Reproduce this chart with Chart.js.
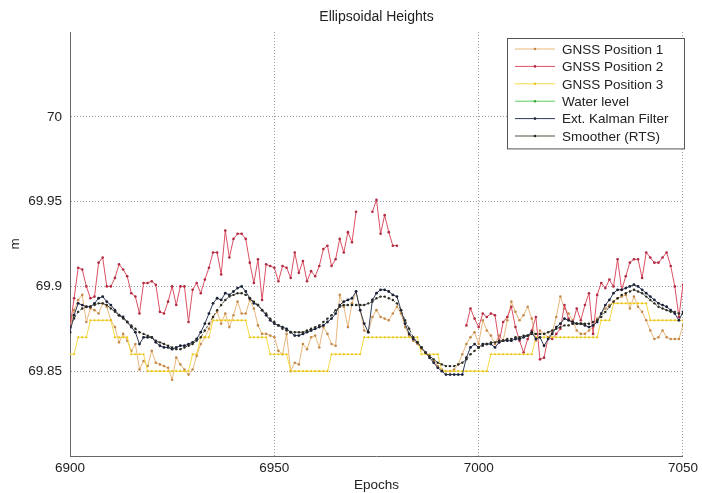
<!DOCTYPE html>
<html>
<head>
<meta charset="utf-8">
<script src="https://cdn.jsdelivr.net/npm/chart.js@4/dist/chart.umd.min.js"></script>
<style>
  html, body { margin: 0; padding: 0; background: #fff; }
  #chart { display: block; }
</style>
</head>
<body>
<canvas id="chart" width="702" height="493"></canvas>
<script>
const FIRST_EPOCH = 6900;
const LAST_EPOCH = 7050;

const xTicks = [6900, 6950, 7000, 7050];
const yTicks = [69.85, 69.9, 69.95, 70];

const gnss1 = [
    69.876, 69.886, 69.892, 69.895, 69.879, 69.887, 69.886, 69.884, 69.890, 69.888,
    69.880, 69.876, 69.867, 69.872, 69.868, 69.862, 69.866, 69.851, 69.856, 69.853,
    69.862, 69.855, 69.854, 69.853, 69.852, 69.845, 69.858, 69.854, 69.851, 69.848,
    69.851, 69.859, 69.866, 69.870, 69.875, 69.882, 69.885, 69.878, 69.884, 69.876,
    69.883, 69.891, 69.884, 69.884, 69.892, 69.887, 69.877, 69.872, 69.872, 69.871,
    69.870, 69.862, 69.860, 69.872, 69.850, 69.855, 69.854, 69.866, 69.863, 69.870,
    69.871, 69.864, 69.876, 69.872, 69.866, 69.865, 69.895, 69.888, 69.876, 69.890,
    69.897, 69.886, 69.874, 69.873, 69.882, 69.886, 69.882, 69.881, 69.880, 69.884,
    69.888, 69.884, 69.876, 69.871, 69.868, 69.866, 69.863, 69.861, 69.858, 69.856,
    69.853, 69.851, 69.850, 69.850, 69.851, 69.854, 69.860, 69.866, 69.870, 69.873,
    69.866, 69.880, 69.874, 69.871, 69.866, 69.871, 69.868, 69.880, 69.891, 69.885,
    69.880, 69.883, 69.888, 69.881, 69.868, 69.874, 69.872, 69.870, 69.873, 69.882,
    69.894, 69.887, 69.884, 69.880, 69.874, 69.872, 69.872, 69.874, 69.876, 69.881,
    69.884, 69.887, 69.889, 69.891, 69.893, 69.894, 69.895, 69.887, 69.894, 69.888,
    69.885, 69.880, 69.874, 69.869, 69.870, 69.874, 69.870, 69.869, 69.869, 69.869,
    69.877
];

const gnss2 = [
    69.876, 69.893, 69.911, 69.910, 69.900, 69.893, 69.894, 69.914, 69.917, 69.900,
    69.900, 69.905, 69.913, 69.910, 69.906, 69.896, 69.894, 69.884, 69.902, 69.902,
    69.903, 69.901, 69.885, 69.884, 69.891, 69.900, 69.889, 69.900, 69.900, 69.879,
    69.898, 69.902, 69.896, 69.904, 69.911, 69.920, 69.920, 69.907, 69.933, 69.917,
    69.928, 69.931, 69.931, 69.928, 69.914, 69.902, 69.916, 69.892, 69.913, 69.912,
    69.911, 69.903, 69.912, 69.911, 69.905, 69.920, 69.908, 69.915, 69.903, 69.909,
    69.906, 69.912, 69.922, 69.924, 69.912, 69.916, 69.928, 69.920, 69.932, 69.926,
    69.944, null, null, null, 69.944, 69.951, 69.931, 69.942, 69.932, 69.924,
    69.924, null, null, null, null, null, null, null, null, null,
    null, null, null, null, null, null, null, 69.877, 69.887, 69.881,
    69.876, 69.884, 69.882, 69.884, 69.883, 69.867, 69.879, 69.882, 69.888, 69.876,
    69.868, 69.861, 69.869, 69.874, 69.882, 69.857, 69.858, 69.870, 69.869, 69.872,
    69.875, 69.889, 69.881, 69.878, 69.887, 69.880, 69.889, 69.896, 69.872, 69.895,
    69.902, 69.899, 69.904, 69.900, 69.916, 69.898, 69.906, 69.914, 69.916, 69.916,
    69.905, 69.920, 69.917, 69.914, 69.914, 69.917, 69.920, 69.912, 69.900, 69.882,
    69.901
];

const gnss3 = [
    69.86, 69.86, 69.87, 69.87, 69.87, 69.88, 69.88, 69.88, 69.88, 69.88,
    69.88, 69.87, 69.87, 69.87, 69.87, 69.86, 69.86, 69.86, 69.86, 69.85,
    69.85, 69.85, 69.85, 69.85, 69.85, 69.85, 69.85, 69.85, 69.85, 69.85,
    69.86, 69.86, 69.87, 69.87, 69.87, 69.88, 69.88, 69.88, 69.88, 69.88,
    69.88, 69.88, 69.88, 69.88, 69.87, 69.87, 69.87, 69.87, 69.87, 69.86,
    69.86, 69.86, 69.86, 69.86, 69.85, 69.85, 69.85, 69.85, 69.85, 69.85,
    69.85, 69.85, 69.85, 69.85, 69.86, 69.86, 69.86, 69.86, 69.86, 69.86,
    69.86, 69.86, 69.87, 69.87, 69.87, 69.87, 69.87, 69.87, 69.87, 69.87,
    69.87, 69.87, 69.87, 69.87, 69.87, 69.87, 69.86, 69.86, 69.86, 69.86,
    69.86, 69.85, 69.85, 69.85, 69.85, 69.85, 69.85, 69.85, 69.85, 69.85,
    69.85, 69.85, 69.85, 69.86, 69.86, 69.86, 69.86, 69.86, 69.86, 69.86,
    69.86, 69.86, 69.86, 69.86, 69.87, 69.87, 69.87, 69.87, 69.87, 69.87,
    69.87, 69.87, 69.87, 69.87, 69.87, 69.87, 69.87, 69.87, 69.87, 69.87,
    69.88, 69.88, 69.88, 69.89, 69.89, 69.89, 69.89, 69.89, 69.89, 69.89,
    69.89, 69.89, 69.88, 69.88, 69.88, 69.88, 69.88, 69.88, 69.88, 69.88,
    69.88
];

// no water level samples fall inside this window
const waterLevel = [];

const kalman = [
    69.873, 69.883, 69.890, 69.889, 69.888, 69.888, 69.890, 69.893, 69.894, 69.891,
    69.889, 69.886, 69.883, 69.882, 69.879, 69.876, 69.873, 69.866, 69.870, 69.870,
    69.870, 69.867, 69.865, 69.864, 69.864, 69.863, 69.864, 69.865, 69.865, 69.866,
    69.867, 69.869, 69.873, 69.878, 69.884, 69.890, 69.893, 69.892, 69.896, 69.895,
    69.897, 69.899, 69.900, 69.897, 69.893, 69.890, 69.889, 69.886, 69.883, 69.880,
    69.878, 69.877, 69.876, 69.875, 69.873, 69.871, 69.871, 69.872, 69.873, 69.874,
    69.875, 69.876, 69.877, 69.879, 69.881, 69.884, 69.889, 69.891, 69.892, 69.893,
    69.897, 69.886, 69.878, 69.873, 69.892, 69.896, 69.898, 69.898, 69.897, 69.895,
    69.894, 69.886, 69.878, 69.872, 69.869, 69.867, 69.864, 69.861, 69.858, 69.855,
    69.852, 69.850, 69.848, 69.848, 69.848, 69.848, 69.848, 69.858, 69.864, 69.866,
    69.864, 69.866, 69.866, 69.866, 69.864, 69.867, 69.868, 69.868, 69.868, 69.869,
    69.869, 69.870, 69.871, 69.873, 69.869, 69.870, 69.865, 69.869, 69.872, 69.876,
    69.878, 69.881, 69.880, 69.879, 69.878, 69.878, 69.877, 69.876, 69.877, 69.879,
    69.884, 69.889, 69.892, 69.896, 69.898, 69.898, 69.899, 69.900, 69.901, 69.900,
    69.898, 69.896, 69.894, 69.892, 69.890, 69.889, 69.888, 69.886, 69.884, 69.880,
    69.885
];

const smoother = [
    69.876, 69.881, 69.885, 69.887, 69.888, 69.888, 69.889, 69.890, 69.890, 69.889,
    69.887, 69.885, 69.883, 69.881, 69.879, 69.877, 69.875, 69.873, 69.872, 69.871,
    69.870, 69.868, 69.867, 69.866, 69.865, 69.864, 69.863, 69.863, 69.864, 69.865,
    69.866, 69.868, 69.870, 69.874, 69.878, 69.882, 69.886, 69.889, 69.892, 69.894,
    69.895, 69.896, 69.896, 69.895, 69.893, 69.891, 69.889, 69.886, 69.884, 69.881,
    69.879, 69.877, 69.875, 69.874, 69.873, 69.873, 69.873, 69.873, 69.874, 69.875,
    69.876, 69.877, 69.879, 69.881, 69.883, 69.886, 69.888, 69.889, 69.889, 69.889,
    69.889, 69.889, 69.889, 69.890, 69.891, 69.893, 69.894, 69.894, 69.893, 69.892,
    69.890, 69.886, 69.880, 69.875, 69.870, 69.867, 69.864, 69.861, 69.859, 69.857,
    69.855, 69.854, 69.853, 69.853, 69.853, 69.854, 69.855, 69.857, 69.860, 69.862,
    69.864, 69.865, 69.866, 69.867, 69.867, 69.868, 69.868, 69.869, 69.869, 69.870,
    69.870, 69.871, 69.871, 69.872, 69.872, 69.872, 69.872, 69.873, 69.874, 69.875,
    69.876, 69.877, 69.877, 69.878, 69.878, 69.878, 69.878, 69.878, 69.879, 69.880,
    69.882, 69.885, 69.888, 69.891, 69.893, 69.895, 69.896, 69.897, 69.898, 69.897,
    69.896, 69.894, 69.892, 69.890, 69.888, 69.887, 69.886, 69.885, 69.885, 69.884,
    69.884
];

const FONT = "'Liberation Sans', Arial, sans-serif";

const epochs = [];
for (let e = FIRST_EPOCH; e <= LAST_EPOCH; e++) epochs.push(e);

function toPoints(values) {
    return values.map((v, i) => ({ x: epochs[i], y: v }));
}

function makeSet(label, values, line, marker, order, radius, dash) {
    return {
        label,
        data: toPoints(values),
        borderColor: line,
        backgroundColor: marker,
        pointBackgroundColor: marker,
        pointBorderWidth: 0,
        pointRadius: radius,
        borderWidth: 1,
        borderDash: dash || [],
        tension: 0,
        spanGaps: false,
        order
    };
}

// MATLAB style title and boxed legend inside the axes
const matlabDecor = {
    id: "matlabDecor",
    afterDraw(chart) {
        const { ctx, chartArea } = chart;
        ctx.save();
        ctx.fillStyle = "#222";
        ctx.font = "14px " + FONT;
        ctx.textAlign = "center";
        ctx.textBaseline = "middle";
        ctx.fillText("Ellipsoidal Heights", (chartArea.left + chartArea.right) / 2, 17);

        const sets = chart.data.datasets;
        const w = 177, rowH = 17.4;
        const h = sets.length * rowH + 6;
        const x0 = chartArea.right - w + 1;
        const y0 = chartArea.top + 6;
        ctx.fillStyle = "#fff";
        ctx.fillRect(x0, y0, w, h);
        ctx.strokeStyle = "#555";
        ctx.lineWidth = 1;
        ctx.strokeRect(x0 + 0.5, y0 + 0.5, w, h);

        ctx.font = "13.5px " + FONT;
        ctx.textAlign = "left";
        sets.forEach((ds, i) => {
            const y = y0 + 11 + i * rowH;
            ctx.strokeStyle = ds.borderColor;
            ctx.lineWidth = 1;
            ctx.setLineDash([]);
            ctx.beginPath();
            ctx.moveTo(x0 + 8, y);
            ctx.lineTo(x0 + 48, y);
            ctx.stroke();
            ctx.fillStyle = ds.pointBackgroundColor;
            ctx.beginPath();
            ctx.arc(x0 + 28, y, 1.3, 0, Math.PI * 2);
            ctx.fill();
            ctx.fillStyle = "#222";
            ctx.fillText(ds.label, x0 + 55, y + 1);
        });
        ctx.restore();
    }
};

new Chart(document.getElementById("chart"), {
    type: "line",
    data: {
        datasets: [
            makeSet("GNSS Position 1", gnss1, "#e8b77c", "#c48a4c", 6, 1.3),
            makeSet("GNSS Position 2", gnss2, "#da5064", "#b02a40", 5, 1.3),
            makeSet("GNSS Position 3", gnss3, "#f5da48", "#eac41c", 4, 1.1),
            makeSet("Water level", waterLevel, "#5ccc5c", "#38a838", 3, 1.3),
            makeSet("Ext. Kalman Filter", kalman, "#2e3a58", "#1c2236", 2, 1.4),
            makeSet("Smoother (RTS)", smoother, "#4e4e3c", "#2a2a22", 1, 1.2, [3, 2])
        ]
    },
    options: {
        responsive: false,
        animation: false,
        devicePixelRatio: 1,
        layout: { padding: { left: 0, right: 16, top: 32, bottom: 0 } },
        scales: {
            x: {
                type: "linear",
                min: FIRST_EPOCH,
                max: LAST_EPOCH,
                afterBuildTicks: scale => { scale.ticks = xTicks.map(v => ({ value: v })); },
                afterFit: scale => { scale.height = 37; },
                ticks: {
                    color: "#222",
                    padding: 4,
                    maxRotation: 0,
                    font: { family: FONT, size: 13.5 },
                    callback: v => String(v)
                },
                grid: { color: "#a0a0a0", drawTicks: false, lineWidth: 1 },
                border: { display: true, color: "#666", width: 1, dash: [1, 2] },
                title: {
                    display: true,
                    text: "Epochs",
                    color: "#222",
                    padding: { top: 0, bottom: 0 },
                    font: { family: FONT, size: 13.5 }
                }
            },
            y: {
                min: 69.8,
                max: 70.05,
                afterBuildTicks: scale => { scale.ticks = yTicks.map(v => ({ value: v })); },
                afterFit: scale => { scale.width = 70; },
                ticks: {
                    color: "#222",
                    padding: 8,
                    font: { family: FONT, size: 13.5 },
                    callback: v => String(+v.toFixed(2))
                },
                grid: { color: "#a0a0a0", drawTicks: false, lineWidth: 1 },
                border: { display: true, color: "#666", width: 1, dash: [1, 2] },
                title: {
                    display: true,
                    text: "m",
                    color: "#222",
                    padding: { top: 7, bottom: 0 },
                    font: { family: FONT, size: 13.5 }
                }
            }
        },
        plugins: {
            legend: { display: false },
            title: { display: false },
            tooltip: { enabled: false }
        }
    },
    plugins: [matlabDecor]
});
</script>
</body>
</html>
